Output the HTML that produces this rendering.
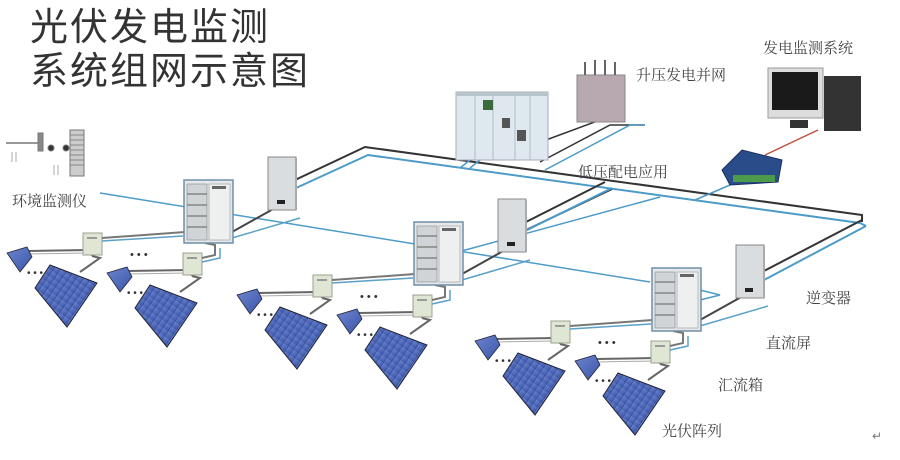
<!DOCTYPE html>
<html><head><meta charset="utf-8"><style>
html,body{margin:0;padding:0;background:#fff;}
svg{display:block;}
text{font-family:"Liberation Sans","Noto Sans CJK SC",sans-serif;}
.lbl{font-family:"Liberation Serif","Noto Serif CJK SC",serif;font-size:15px;fill:#444;}
</style></head><body>
<svg width="900" height="460" viewBox="0 0 900 460" xmlns="http://www.w3.org/2000/svg">
<defs>
<linearGradient id="pv" x1="0" y1="0" x2="1" y2="1">
<stop offset="0" stop-color="#6d86d0"/><stop offset="1" stop-color="#3b55a8"/></linearGradient>
<pattern id="stripes" width="6" height="6" patternUnits="userSpaceOnUse" patternTransform="rotate(35)">
<rect width="6" height="6" fill="url(#pv)"/><line x1="0" y1="0" x2="0" y2="6" stroke="#2e4590" stroke-width="1"/></pattern>
<g id="unit">
<path d="M28,251 L88,250 M92,256 L100,258 L80,272 M92,256 L92,254" stroke="#666" stroke-width="2" fill="none"/>
<path d="M28,254 L86,253" stroke="#aaa" stroke-width="1" fill="none"/>
<polygon points="7,253 27,247 32,257 20,272" fill="url(#pv)" stroke="#223" stroke-width="0.8"/>
<polygon points="35,288 50,265 97,283 67,327" fill="url(#stripes)" stroke="#223" stroke-width="1"/>
<text x="27" y="276" font-size="10" fill="#333">• • •</text>
<rect x="83" y="233" width="19" height="22" fill="#dfe6d4" stroke="#9aa08e"/>
<rect x="87" y="237" width="10" height="2" fill="#999"/>
</g>
<g id="stage">
<use href="#unit"/>
<use href="#unit" transform="translate(100,20)"/>
<text x="130" y="258" font-size="11" fill="#333">• • •</text>
<path d="M102,238 L185,232 M202,258 L215,255 L215,245 L205,243" stroke="#777" stroke-width="2" fill="none"/>
<path d="M102,241 L183,236 M202,262 L220,258 L220,248" stroke="#5aa0c8" stroke-width="1.5" fill="none"/>
<path d="M232,232 L275,208" stroke="#444" stroke-width="2" fill="none"/>
<path d="M232,238 L300,218" stroke="#5aa0c8" stroke-width="1.5" fill="none"/>
<rect x="184" y="180" width="49" height="63" fill="#e4e8ea" stroke="#6f8fa8" stroke-width="1.5"/>
<rect x="187" y="184" width="20" height="56" fill="#d0d4d6" stroke="#888" stroke-width="0.6"/>
<path d="M187,194 H207 M187,205 H207 M187,216 H207 M187,227 H207" stroke="#777" stroke-width="1.2"/>
<rect x="209" y="184" width="21" height="56" fill="#eef0f0" stroke="#999" stroke-width="0.6"/>
<rect x="212" y="186" width="14" height="3" fill="#666"/>
<rect x="268" y="157" width="28" height="53" fill="#dadde0" stroke="#888"/>
<rect x="277" y="200" width="8" height="4" fill="#222"/>
<path d="M296,158 V210" stroke="#aaa" stroke-width="2"/>
</g>
</defs>

<text x="30" y="40" font-size="38" fill="#333" style="font-family:'Noto Sans CJK SC',sans-serif" letter-spacing="2">光伏发电监测</text>
<text x="30" y="84" font-size="38" fill="#333" style="font-family:'Noto Sans CJK SC',sans-serif" letter-spacing="2">系统组网示意图</text>

<!-- env monitor -->
<g stroke="#777" fill="#888">
<line x1="6" y1="143" x2="40" y2="143" stroke-width="1.5"/>
<rect x="38" y="133" width="5" height="18"/>
<circle cx="51" cy="148" r="3" fill="#333"/><circle cx="66" cy="148" r="3" fill="#333"/>
<rect x="70" y="130" width="14" height="46" fill="#ccc"/>
<path d="M70,135 H84 M70,140 H84 M70,145 H84 M70,150 H84 M70,155 H84 M70,160 H84 M70,165 H84" stroke="#888"/>
<path d="M12,152 v10 M16,152 v10 M54,165 v10 M58,165 v10" stroke="#aaa"/>
</g>
<text x="12" y="206" class="lbl">环境监测仪</text>

<!-- trunk lines -->
<path d="M295,180 L365,147 L862,215 L862,222" stroke="#333" stroke-width="2" fill="none"/>
<path d="M296,188 L368,155 L860,223 L866,226" stroke="#4d9bc8" stroke-width="2" fill="none"/>
<path d="M100,193 L650,282" stroke="#4d9bc8" stroke-width="1.5" fill="none"/>
<path d="M520,225 L605,182 M522,232 L612,189" stroke="#333" stroke-width="2" fill="none"/>
<path d="M523,232 L612,188" stroke="#4d9bc8" stroke-width="2" fill="none"/>
<path d="M458,252 L660,197" stroke="#4d9bc8" stroke-width="1.5" fill="none"/>
<path d="M762,272 L862,220" stroke="#333" stroke-width="2" fill="none"/>
<path d="M764,280 L866,226" stroke="#4d9bc8" stroke-width="2" fill="none"/>
<path d="M700,290 L720,295 L700,300" stroke="#4d9bc8" stroke-width="1.5" fill="none"/>
<path d="M470,160 L460,168 M485,156 L470,168" stroke="#4d9bc8" stroke-width="1.5"/>
<path d="M546,140 L600,120 M540,162 L610,125 L645,125" stroke="#333" stroke-width="1.5" fill="none"/>
<path d="M545,170 L630,125 L645,125" stroke="#4d9bc8" stroke-width="1.5" fill="none"/>
<path d="M695,200 L730,185" stroke="#4d9bc8" stroke-width="1.5"/>
<path d="M765,155 L818,130" stroke="#c05040" stroke-width="1.5"/>

<use href="#stage"/>
<use href="#stage" transform="translate(230,42)"/>
<use href="#stage" transform="translate(468,88)"/>

<!-- switchgear -->
<rect x="456" y="92" width="92" height="68" fill="#dfe8ee" stroke="#aab"/>
<path d="M475,92 V160 M493,92 V160 M515,92 V160 M530,92 V160" stroke="#b0bcc4"/>
<rect x="483" y="100" width="10" height="10" fill="#3a6a3a"/>
<rect x="502" y="118" width="8" height="10" fill="#555"/>
<rect x="517" y="130" width="9" height="11" fill="#555"/>
<rect x="456" y="92" width="92" height="4" fill="#b8c4cc"/>
<!-- transformer -->
<rect x="577" y="75" width="48" height="47" fill="#b8a8b0" stroke="#888"/>
<path d="M585,75 V62 M595,75 V60 M605,75 V60 M615,75 V62" stroke="#666" stroke-width="2"/>
<text x="636" y="80" class="lbl">升压发电并网</text>
<text x="578" y="177" class="lbl">低压配电应用</text>
<!-- computer -->
<rect x="768" y="68" width="55" height="50" fill="#ddd" stroke="#999"/>
<rect x="772" y="72" width="46" height="38" fill="#1a1a1a"/>
<rect x="790" y="120" width="18" height="8" fill="#333"/>
<rect x="824" y="76" width="37" height="55" fill="#333"/>
<text x="763" y="53" class="lbl">发电监测系统</text>
<!-- device -->
<polygon points="722,170 742,150 782,160 778,182 730,185" fill="#2a4d8a" stroke="#1a3060"/>
<rect x="733" y="175" width="42" height="7" fill="#4c9a4c"/>

<text x="806" y="303" class="lbl">逆变器</text>
<text x="766" y="348" class="lbl">直流屏</text>
<text x="718" y="390" class="lbl">汇流箱</text>
<text x="662" y="436" class="lbl">光伏阵列</text>
<text x="872" y="440" font-size="12" fill="#777">↵</text>
</svg>
</body></html>
